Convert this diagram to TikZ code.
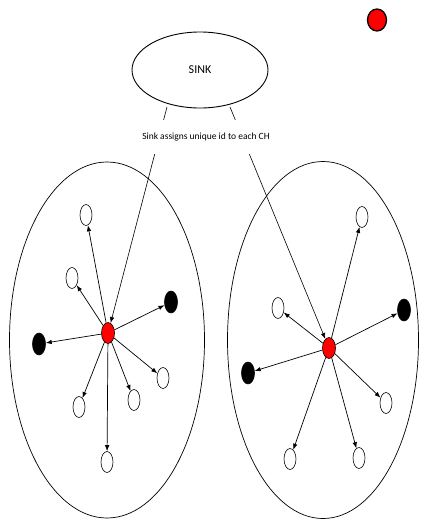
\documentclass[tikz,border=0pt]{standalone}
\usepackage{fontspec}
\setmainfont{Carlito}
\usetikzlibrary{shapes.geometric,arrows.meta}
\begin{document}
\begin{tikzpicture}[x=1pt,y=-1pt,
  cluster/.style={draw, line width=0.7pt, ellipse, inner sep=0pt},
  wnode/.style={draw, line width=0.6pt, ellipse, fill=white, minimum width=12pt, minimum height=21pt, inner sep=0pt},
  bnode/.style={draw, line width=0.6pt, ellipse, fill=black, minimum width=13pt, minimum height=22pt, inner sep=0pt},
  rnode/.style={draw, line width=0.6pt, ellipse, fill=red, minimum width=13pt, minimum height=21pt, inner sep=0pt},
  arr/.style={line width=0.7pt, -{Latex[length=6pt,width=4.5pt]}},
  link/.style={line width=0.6pt, -{Latex[length=6pt,width=4.5pt]}}]
\useasboundingbox (0,0) rectangle (421,522);
% sink
\node[draw, line width=0.9pt, ellipse, minimum width=136pt, minimum height=76pt, inner sep=0pt, font=\fontsize{12}{14}\selectfont] (sink) at (200,70) {SINK};
% legend dot
\node[draw, line width=1.3pt, ellipse, fill=red, minimum width=19pt, minimum height=22pt, inner sep=0pt] (legend) at (377,20) {};
% clusters
\node[cluster, minimum width=195pt, minimum height=356pt] (c1) at (107,340) {};
\node[cluster, minimum width=191pt, minimum height=357pt] (c2) at (323,340) {};
% left cluster nodes
\node[rnode] (r1) at (108,333) {};
\node[wnode] (a1) at (86,215) {};
\node[wnode] (a2) at (72,278) {};
\node[bnode] (a3) at (171,302) {};
\node[bnode] (a4) at (39,344) {};
\node[wnode] (a5) at (163,378) {};
\node[wnode] (a6) at (134,400) {};
\node[wnode] (a7) at (79,407) {};
\node[wnode] (a8) at (107,462) {};
% right cluster nodes
\node[rnode] (r2) at (329,348) {};
\node[wnode] (b1) at (362,217) {};
\node[wnode] (b2) at (278,308) {};
\node[bnode] (b3) at (404,310) {};
\node[bnode] (b4) at (248,373) {};
\node[wnode] (b5) at (386,403) {};
\node[wnode] (b6) at (290,459) {};
\node[wnode] (b7) at (359,458) {};
% arrows
\foreach \t in {a1,a2,a3,a4,a5,a6,a7,a8} \draw[arr] (r1) -- (\t);
\foreach \t in {b1,b2,b3,b4,b5,b6,b7} \draw[arr] (r2) -- (\t);
% sink links
\coordinate (s1) at (167,107);
\coordinate (s2) at (230,107);
\draw[link] (s1) -- (r1);
\draw[link] (s2) -- (r2);
\node[fill=white, inner xsep=2pt, inner ysep=13pt, font=\fontsize{9.5}{11}\selectfont] (lbl) at (206,137) {Sink assigns unique id to each CH};
\end{tikzpicture}
\end{document}
